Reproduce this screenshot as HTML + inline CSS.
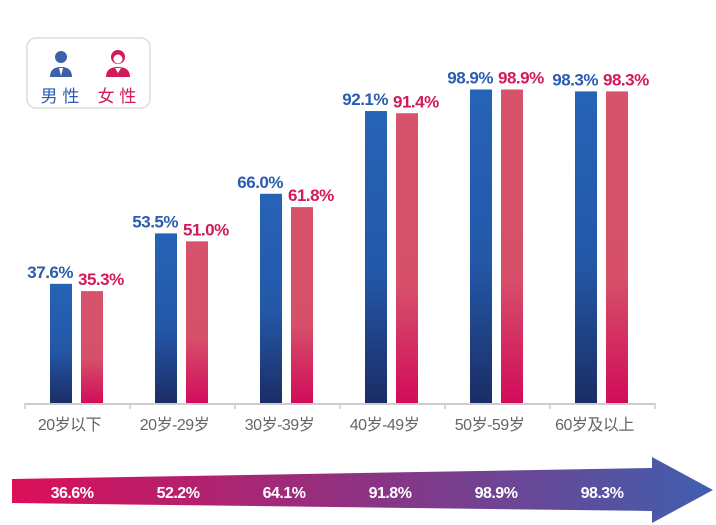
<!DOCTYPE html>
<html><head><meta charset="utf-8"><style>
body{margin:0;background:#fff;width:716px;height:525px;overflow:hidden}
svg{display:block;font-family:"Liberation Sans","Noto Sans CJK SC",sans-serif}
</style></head><body>
<svg id="chart" width="716" height="525">
<defs>
<linearGradient id="gb" x1="0" y1="0" x2="0" y2="1"><stop offset="0" stop-color="#2663b6"/><stop offset="0.55" stop-color="#2458a8"/><stop offset="1" stop-color="#1b2d66"/></linearGradient>
<linearGradient id="gp" x1="0" y1="0" x2="0" y2="1"><stop offset="0" stop-color="#d6536b"/><stop offset="0.6" stop-color="#d6506a"/><stop offset="1" stop-color="#d10c5a"/></linearGradient>
<linearGradient id="ga" x1="0" y1="0" x2="1" y2="0"><stop offset="0" stop-color="#dc0f58"/><stop offset="0.5" stop-color="#8d3283"/><stop offset="1" stop-color="#3f5fae"/></linearGradient>
</defs>
<g>
<rect x="27" y="38" width="123" height="70" rx="9" fill="#fff" stroke="#ddd" stroke-width="1.5"/>
<g fill="#3b62a8"><circle cx="61" cy="57" r="6"/><path d="M50 77 Q50 67 61 67 Q72 67 72 77 Z"/><path d="M59 68 L63 68 L61 76 Z" fill="#fff"/></g>
<text x="60" y="102" text-anchor="middle" font-size="17" fill="#2a5db0">男 性</text>
<g fill="#d3195a"><circle cx="118" cy="57" r="7"/><circle cx="118" cy="59" r="4.5" fill="#fff"/><path d="M106 77 Q106 67 118 67 Q130 67 130 77 Z"/><path d="M115 68 L121 68 L118 73 Z" fill="#fff"/></g>
<text x="117" y="102" text-anchor="middle" font-size="17" fill="#d3195a">女 性</text>
</g>
<g id="axis"></g><g id="bars"></g><g id="arrow"></g>
</svg>
<script>
const categories=["20岁以下","20岁-29岁","30岁-39岁","40岁-49岁","50岁-59岁","60岁及以上"];
const maleValues=[37.6,53.5,66.0,92.1,98.9,98.3];
const femaleValues=[35.3,51.0,61.8,91.4,98.9,98.3];
const totalValues=[36.6,52.2,64.1,91.8,98.9,98.3];
const NS="http://www.w3.org/2000/svg";
const x0=25,gw=105,base=403,k=3.17;
const xS=i=>x0+i*gw;
const yS=v=>base-v*k;
function mk(t,a,p){const e=document.createElementNS(NS,t);for(const q in a)e.setAttribute(q,a[q]);p.appendChild(e);return e;}
const ax=document.getElementById('axis'),bars=document.getElementById('bars'),ar=document.getElementById('arrow');
const line=mk('line',{x1:x0,y1:base+1,x2:x0+gw*categories.length,y2:base+1,stroke:'#ccc','stroke-width':2},ax);


for(let i=0;i<=categories.length;i++){
 const t=mk('line',{x1:xS(i),y1:base,x2:xS(i),y2:base+6,stroke:'#ccc','stroke-width':1.5},ax);
 
 
}
categories.forEach((c,i)=>{
 const t=mk('text',{x:xS(i)+gw/2-8,y:base+27,'text-anchor':'middle','font-size':16,fill:'#666','letter-spacing':'-0.5'},ax);t.textContent=c;
 
 
 const bx=xS(i)+25,px=xS(i)+56;
 const b=mk('rect',{x:bx,y:yS(maleValues[i]),width:22,height:base-yS(maleValues[i]),fill:'url(#gb)'},bars);
 
 
 const p=mk('rect',{x:px,y:yS(femaleValues[i]),width:22,height:base-yS(femaleValues[i]),fill:'url(#gp)'},bars);
 
 
 const bl=mk('text',{x:bx+23,y:yS(maleValues[i])-6,'text-anchor':'end','font-size':17,'font-weight':'bold',fill:'#2a5db0','letter-spacing':'-0.5'},bars);bl.textContent=maleValues[i].toFixed(1)+'%';
 
 
 const pl=mk('text',{x:px-3,y:yS(femaleValues[i])-6,'text-anchor':'start','font-size':17,'font-weight':'bold',fill:'#d3195a','letter-spacing':'-0.5'},bars);pl.textContent=femaleValues[i].toFixed(1)+'%';
 
 
});
const poly=mk('path',{d:'M12 479 L652 468 L652 457 L713 490 L652 523 L652 511 L12 503 Z',fill:'url(#ga)'},ar);


totalValues.forEach((v,i)=>{
 const t=mk('text',{x:72+i*106,y:498,'text-anchor':'middle','font-size':16,'font-weight':'bold',fill:'#fff','letter-spacing':'-0.5'},ar);t.textContent=v.toFixed(1)+'%';
 
 
});
</script>
</body></html>
